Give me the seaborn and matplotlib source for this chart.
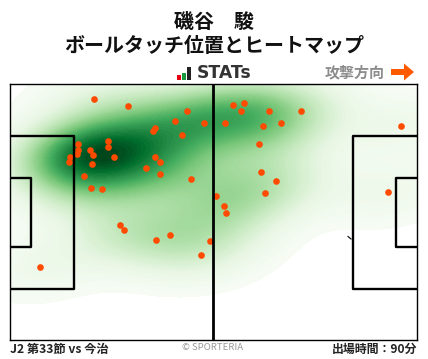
import matplotlib
matplotlib.use("Agg")
import matplotlib.pyplot as plt
from matplotlib.patches import Rectangle, FancyArrow
import pandas as pd
import seaborn as sns

plt.rcParams["font.family"] = ["Noto Sans CJK JP", "DejaVu Sans"]

# ball touches (pixel position on the 428x359 image)
touch_x = [94.3, 128.3, 187.3, 175.3, 204.3, 155.3, 153.3, 182.3, 78.3, 108.3, 108.3, 78.3,
           90.3, 77.3, 93.3, 70.3, 69.3, 114.3, 92.3, 155.3, 160.3, 146.3, 160.3, 84.3,
           191.3, 91.3, 102.3, 233.3, 244.3, 241.3, 269.3, 301.3, 225.3, 263.3, 281.3,
           259.3, 261.3, 276.3, 265.3, 216.3, 224.3, 226.3, 401.3, 388.3, 120.3, 124.3,
           156.3, 170.3, 210.3, 201.3, 40.3]
touch_y = [99.3, 106.3, 111.3, 121.3, 123.3, 128.3, 131.3, 135.3, 144.3, 141.3, 147.3, 150.3,
           150.3, 154.3, 155.3, 157.3, 162.3, 157.3, 164.3, 157.3, 162.3, 168.3, 174.3, 176.3,
           179.3, 188.3, 189.3, 105.3, 103.3, 111.3, 111.3, 111.3, 123.3, 126.3, 123.3,
           144.3, 172.3, 181.3, 193.3, 196.3, 206.3, 213.3, 126.3, 192.3, 225.3, 230.3,
           240.3, 235.3, 241.3, 255.3, 267.3]
df = pd.DataFrame({"x": touch_x, "y": touch_y})

W, H = 428, 359
LEFT, RIGHT, TOP, BOTTOM = 10.0, 416.5, 84.0, 340.0
DOT = "#ff4b00"

fig = plt.figure(figsize=(W / 100, H / 100), dpi=100)
ax = fig.add_axes([LEFT / W, 1 - BOTTOM / H, (RIGHT - LEFT) / W, (BOTTOM - TOP) / H])

# heatmap
sns.kdeplot(data=df, x="x", y="y", fill=True, cmap="Greens", levels=80, thresh=0.015,
            bw_adjust=1.0, gridsize=200, cut=6, ax=ax, zorder=1)
sns.scatterplot(data=df, x="x", y="y", color=DOT, s=23, linewidth=0, ax=ax, zorder=3)

ax.set_xlim(LEFT, RIGHT)
ax.set_ylim(BOTTOM, TOP)
ax.set_xlabel("")
ax.set_ylabel("")
ax.set_xticks([])
ax.set_yticks([])
for s in ax.spines.values():
    s.set_linewidth(1.0)
    s.set_color("black")
    s.set_zorder(5)

# pitch lines
lw = 1.7
ax.plot([213, 213], [TOP, BOTTOM], color="black", lw=2.0, zorder=4)
ax.plot([LEFT, 73.5, 73.5, LEFT], [136, 136, 289, 289], color="black", lw=lw, zorder=4)
ax.plot([LEFT, 31, 31, LEFT], [178, 178, 247, 247], color="black", lw=lw, zorder=4)
ax.plot([RIGHT, 353, 353, RIGHT], [136, 136, 289, 289], color="black", lw=lw, zorder=4)
ax.plot([RIGHT, 396, 396, RIGHT], [178, 178, 247, 247], color="black", lw=lw, zorder=4)
ax.plot([348, 351], [236.5, 239], color="black", lw=0.8, zorder=4)


def px(x, y):
    return x / W, 1 - y / H


fig.text(*px(214, 21), "磯谷　駿", ha="center", va="center", fontsize=14.4, fontweight="bold", color="#111111")
fig.text(*px(214, 46), "ボールタッチ位置とヒートマップ", ha="center", va="center", fontsize=14.4,
         fontweight="bold", color="#111111")

# STATs logo
for x0, h, c in [(177, 5, "#e60012"), (182, 7, "#1a9a3c"), (186.5, 13, "#222222")]:
    fig.add_artist(Rectangle(px(x0, 80), 4 / W, h / H, transform=fig.transFigure, color=c, lw=0))
fig.text(*px(196.5, 73.5), "STATs", ha="left", va="center", fontsize=12.4, fontweight="bold",
         color="#333333", family=["DejaVu Sans"])

fig.text(*px(355, 72), "攻撃方向", ha="center", va="center", fontsize=10.8, fontweight="bold", color="#8c8c8c")
fig.add_artist(FancyArrow(391 / W, 1 - 72 / H, 23 / W, 0, width=6 / H, head_width=17 / H, head_length=10 / W,
                          length_includes_head=True, transform=fig.transFigure, color="#ff5a00", lw=0))

fig.text(*px(10, 349), "J2 第33節 vs 今治", ha="left", va="center", fontsize=8.8, fontweight="bold", color="#222222")
fig.text(*px(417, 349), "出場時間：90分", ha="right", va="center", fontsize=8.6, fontweight="bold", color="#222222")
fig.text(*px(213, 348), "© SPORTERIA", ha="center", va="center", fontsize=6.9, color="#999999")

fig.savefig("out.png", dpi=100)
plt.close(fig)
